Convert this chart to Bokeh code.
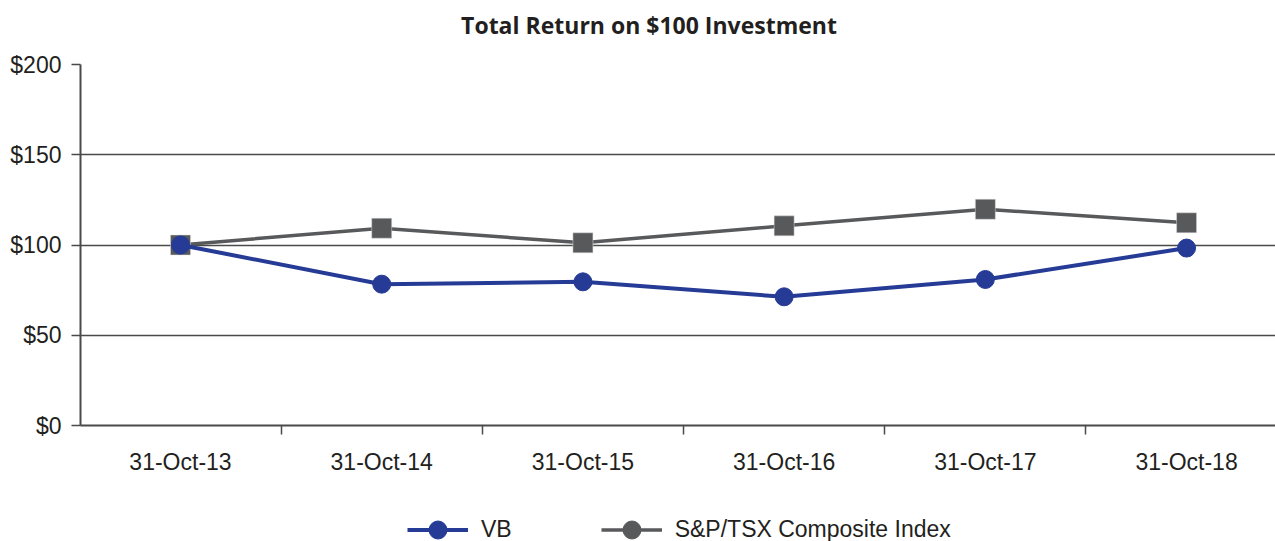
from bokeh.plotting import figure
from bokeh.models import Range1d, FixedTicker, Legend, LegendItem, ColumnDataSource, Label
from bokeh.layouts import column
from bokeh.embed import file_html
from bokeh.resources import INLINE

# ---- data ----
title_text = "Total Return on $100 Investment"
dates = ["31-Oct-13", "31-Oct-14", "31-Oct-15", "31-Oct-16", "31-Oct-17", "31-Oct-18"]
vb = [100.0, 78.3, 79.6, 71.3, 80.9, 98.3]
tsx = [100.0, 109.3, 101.2, 110.6, 119.8, 112.3]
y_ticks = [0, 50, 100, 150, 200]
y_labels = ["$0", "$50", "$100", "$150", "$200"]
series_names = ["VB", "S&P/TSX Composite Index"]

BLUE = "#253b96"
GRAY = "#58595b"
TEXT = "#231f20"
GRID = "#4a4a4a"
FONT = "Liberation Sans"

xs = list(range(len(dates)))
src = ColumnDataSource(dict(x=xs, vb=vb, tsx=tsx))


def strip(height):
    f = figure(width=1275, height=height, output_backend="svg", toolbar_location=None,
               x_axis_type=None, y_axis_type=None,
               x_range=Range1d(0, 1195), y_range=Range1d(0, height),
               min_border_left=0, min_border_right=0, min_border_top=0, min_border_bottom=0)
    f.outline_line_color = None
    f.xgrid.visible = False
    f.ygrid.visible = False
    return f


# ---- title strip ----
tf = strip(40)
tf.add_layout(Label(x=568.5, y=16, text=title_text, text_align="center", text_baseline="middle",
                    text_font="Open Sans", text_font_style="bold", text_font_size="23px",
                    text_color=TEXT))

# ---- main chart ----
p = figure(width=1275, height=441, output_backend="svg", toolbar_location=None,
           x_range=Range1d(-0.497, 5.442), y_range=Range1d(0, 200),
           min_border_left=80, min_border_right=0, min_border_top=24, min_border_bottom=56)
p.outline_line_color = None

xa = p.xaxis[0]
xa.ticker = FixedTicker(ticks=xs, minor_ticks=[i + 0.5 for i in xs])
xa.major_label_overrides = {i: d for i, d in zip(xs, dates)}
xa.major_tick_line_color = None
xa.major_tick_out = 0
xa.major_tick_in = 0
xa.minor_tick_out = 9
xa.minor_tick_in = 0
xa.minor_tick_line_color = GRID
xa.minor_tick_line_width = 1.5
xa.axis_line_color = GRID
xa.axis_line_width = 2
xa.major_label_text_font = FONT
xa.major_label_text_font_size = "23px"
xa.major_label_text_color = TEXT
xa.major_label_standoff = 14

ya = p.yaxis[0]
ya.ticker = FixedTicker(ticks=y_ticks, minor_ticks=[])
ya.major_label_overrides = {t: l for t, l in zip(y_ticks, y_labels)}
ya.major_tick_out = 9
ya.major_tick_in = 0
ya.major_tick_line_color = GRID
ya.major_tick_line_width = 1.5
ya.axis_line_color = GRID
ya.axis_line_width = 2
ya.major_label_text_font = FONT
ya.major_label_text_font_size = "23px"
ya.major_label_text_color = TEXT
ya.major_label_standoff = 10

p.xgrid.visible = False
p.ygrid.grid_line_color = GRID
p.ygrid.grid_line_width = 1.5
p.ygrid.ticker = FixedTicker(ticks=y_ticks)

p.line("x", "tsx", source=src, line_color=GRAY, line_width=3.5)
p.scatter("x", "tsx", source=src, marker="square", size=20, fill_color=GRAY, line_color="#dddddd", line_width=0.5)
p.line("x", "vb", source=src, line_color=BLUE, line_width=4)
p.scatter("x", "vb", source=src, marker="circle", size=18, fill_color=BLUE, line_color=BLUE)

# ---- legend strip (legend shows circles for both series) ----
# the strip's range keeps the series' own points out of view; only the legend shows
lf = strip(60)
lf.y_range = Range1d(-1000, -999)
items = []
for name, col, key, lw in zip(series_names, [BLUE, GRAY], ["vb", "tsx"], [4, 3.5]):
    ln = lf.line("x", key, source=src, line_color=col, line_width=lw)
    mk = lf.scatter("x", key, source=src, marker="circle", fill_color=col, line_color=col)
    items.append(LegendItem(label=name, renderers=[ln, mk]))

legend = Legend(items=items, location=(327, -11), orientation="horizontal",
                glyph_width=61, glyph_height=45, label_standoff=13, spacing=89,
                padding=0, margin=0, border_line_color=None, background_fill_alpha=0,
                label_text_font=FONT, label_text_font_size="23px", label_text_color=TEXT)
lf.add_layout(legend, "center")

layout = column(tf, p, lf, spacing=0)
open("out.html", "w").write(file_html(layout, INLINE))
